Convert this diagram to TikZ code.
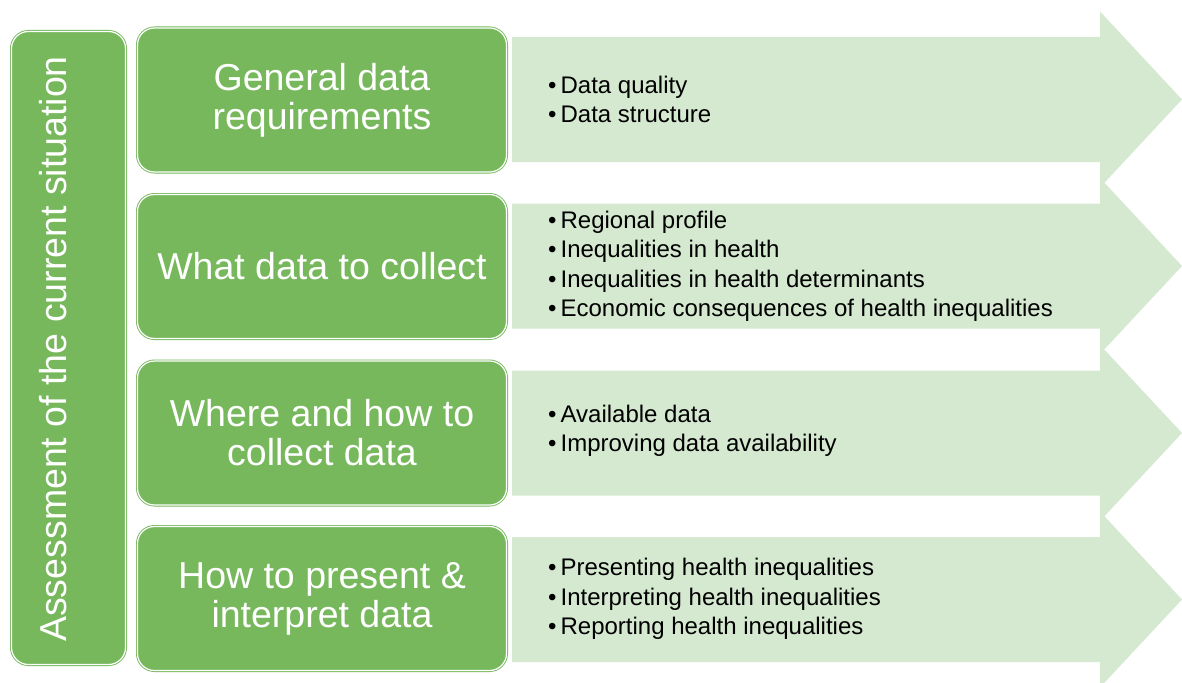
\documentclass[tikz,border=0pt]{standalone}
\usepackage{fontspec}
\setmainfont{Liberation Sans}
\usetikzlibrary{calc}
\definecolor{boxgreen}{RGB}{119,184,93}
\definecolor{bandgreen}{RGB}{213,232,208}

\begin{document}
\begin{tikzpicture}[x=1pt,y=-1pt]
    % `stage' is used for the green boxes in the middle column.
    % `side' is the tall box on the left.
    % `band' is used for the light arrows, `points' for their text.
    \tikzstyle{stage} = [draw=boxgreen,double=white,double distance=1.2pt,line width=0.9pt,fill=boxgreen,rounded corners=17pt,minimum width=369pt,minimum height=144pt,inner sep=0pt,text=white,align=center,font=\fontsize{37.5}{39}\selectfont]
    \tikzstyle{side} = [stage,minimum width=633pt,minimum height=114pt,rotate=90]
    \tikzstyle{band} = [fill=bandgreen]
    \tikzstyle{points} = [anchor=west,inner sep=0pt,align=left,font=\fontsize{24}{29.5}\selectfont]
    %
    \useasboundingbox (0,0) rectangle (1182,682);
    % Draw arrows.
    \foreach \y in {99.5,266,433,599.5}
        \fill[band] (512,\y-62.5) -- (1100,\y-62.5) -- (1100,\y-88) -- (1182,\y)
                    -- (1100,\y+88) -- (1100,\y+62.5) -- (512,\y+62.5) -- cycle;
    %
    \node[side] (situation) at (68.5,348) {};
    \node[rotate=90,text=white,font=\fontsize{37.5}{39}\selectfont] (sittext) at ($(situation.center)+(-15,1)$) {Assessment of the current situation};
    %
    \node[stage] (general) at (322,100) {General data\\requirements};
    \node[stage] (what) at (322,266.5) {What data to collect};
    \node[stage] (where) at (322,433) {Where and how to\\collect data};
    \node[stage] (present) at (322,598.5) {How to present \&\\interpret data};
    %
    \node[points] (pts1) at (548,99.5) {•\,Data quality\\•\,Data structure};
    \node[points] (pts2) at (548,266.5) {•\,Regional profile\\•\,Inequalities in health\\
        •\,Inequalities in health determinants\\•\,Economic consequences of health inequalities};
    \node[points] (pts3) at (548,431) {•\,Available data\\•\,Improving data availability};
    \node[points] (pts4) at (548,599) {•\,Presenting health inequalities\\
        •\,Interpreting health inequalities\\•\,Reporting health inequalities};
\end{tikzpicture}
\end{document}
